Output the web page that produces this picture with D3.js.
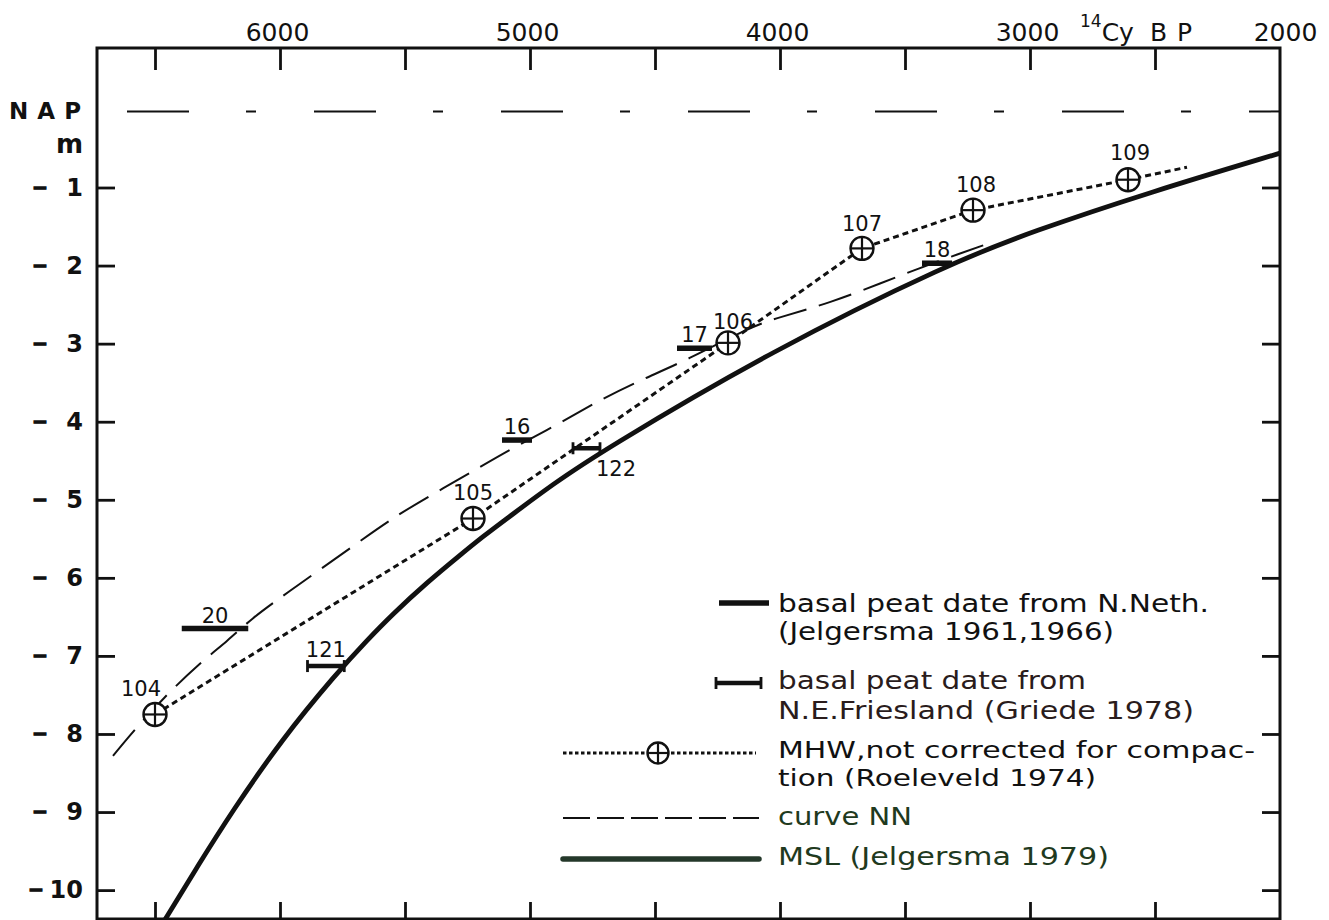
<!DOCTYPE html>
<html><head><meta charset="utf-8">
<script src="https://cdn.jsdelivr.net/npm/d3@7"></script>
<style>body{margin:0;background:#fff}svg{display:block}</style>
</head><body>
<svg id="c" width="1329" height="920"></svg>
<script>
// ---------- data ----------
const yearTicks = [6500, 6000, 5500, 5000, 4500, 4000, 3500, 3000, 2500];
const yearLabels = [6000, 5000, 4000, 3000, 2000];
const depthTicks = [-1, -2, -3, -4, -5, -6, -7, -8, -9, -10];

// MSL (Jelgersma 1979)
const mslYears  = [6470, 6327, 6193, 5993, 5773, 5652, 5548, 5412, 5280, 5188, 5080, 4908, 4720, 4028, 3320, 2988, 2520, 2000];
const mslDepths = [-10.43, -9.68, -9.00, -8.07, -7.22, -6.80, -6.46, -6.06, -5.71, -5.47, -5.21, -4.80, -4.39, -3.08, -1.97, -1.56, -1.06, -0.56];

// curve NN
const nnYears  = [6668, 6580, 6467, 6327, 6207, 6113, 5993, 5680, 5520, 5340, 5200, 5060, 4880, 4720, 4560, 4372, 4120, 4012, 3792, 3592, 3440, 3320, 3168];
const nnDepths = [-8.28, -7.94, -7.54, -7.11, -6.80, -6.52, -6.24, -5.53, -5.17, -4.84, -4.58, -4.32, -4.02, -3.72, -3.47, -3.21, -2.79, -2.67, -2.47, -2.22, -2.03, -1.89, -1.72];

// MHW (Roeleveld 1974)
const mhwIds    = ["104", "105", "106", "107", "108", "109", ""];
const mhwYears  = [6500, 5228, 4208, 3672, 3228, 2608, 2372];
const mhwDepths = [-7.75, -5.24, -2.99, -1.78, -1.29, -0.90, -0.74];

// basal peat dates N.Neth. (Jelgersma)
const nnethIds   = ["20", "16", "17", "18"];
const nnethFrom  = [6393, 5112, 4412, 3432];
const nnethTo    = [6127, 4992, 4272, 3312];
const nnethDepth = [-6.65, -4.235, -3.06, -1.97];

// basal peat dates N.E. Friesland (Griede)
const friesIds   = ["121", "122"];
const friesFrom  = [5890, 4828];
const friesTo    = [5743, 4720];
const friesDepth = [-7.13, -4.34];

const legendTexts = [
  ["basal peat date from N.Neth.", "(Jelgersma 1961,1966)"],
  ["basal peat date from", "N.E.Friesland  (Griede 1978)"],
  ["MHW,not corrected for compac-", "tion (Roeleveld 1974)"],
  ["curve NN"],
  ["MSL (Jelgersma 1979)"]
];

// ---------- layout ----------
const L = 97, R = 1280, T = 48, B = 919;
const x = d3.scaleLinear().domain([6732, 2000]).range([L, R]);
const y = d3.scaleLinear().domain([0.787, -10.37]).range([T, B]);
const ink = "#111";
const FONT = "'DejaVu Sans', sans-serif";

const svg = d3.select("#c");
svg.append("rect").attr("width", 1329).attr("height", 920).attr("fill", "#fff");

svg.append("defs").append("clipPath").attr("id", "plot")
  .append("rect").attr("x", L).attr("y", T).attr("width", R - L).attr("height", B - T);

function styleTicks(g) {
  g.select(".domain").remove();
  g.selectAll(".tick line").attr("stroke", ink).attr("stroke-width", 2.8);
}
svg.append("g").attr("transform", `translate(0,${T})`)
  .call(d3.axisBottom(x).tickValues(yearTicks).tickSize(22).tickFormat("")).call(styleTicks);
svg.append("g").attr("transform", `translate(0,${B})`)
  .call(d3.axisTop(x).tickValues(yearTicks).tickSize(17).tickFormat("")).call(styleTicks);
svg.append("g").attr("transform", `translate(${L},0)`)
  .call(d3.axisRight(y).tickValues(depthTicks).tickSize(18).tickFormat("")).call(styleTicks);
svg.append("g").attr("transform", `translate(${R},0)`)
  .call(d3.axisLeft(y).tickValues(depthTicks).tickSize(18).tickFormat("")).call(styleTicks);

// top labels
const topAx = svg.append("g").attr("transform", `translate(0,${T})`)
  .call(d3.axisTop(x).tickValues(yearLabels).tickSize(0).tickPadding(7).tickFormat(d => String(d)));
topAx.select(".domain").remove();
topAx.selectAll("text").attr("font-family", FONT).attr("font-size", 25).attr("fill", ink)
  .attr("transform", d => d === 2000 ? "translate(5,0)" : "translate(-3,0)");

// 14C y BP
const unit = svg.append("text").attr("font-family", FONT).attr("fill", ink).attr("x", 1080).attr("y", 41);
unit.append("tspan").attr("font-size", 17).attr("dy", -14).text("14");
unit.append("tspan").attr("font-size", 25).attr("dy", 14).text("Cy");
svg.append("text").attr("font-family", FONT).attr("fill", ink).attr("font-size", 25)
  .attr("x", 1150).attr("y", 41).attr("textLength", 42).attr("lengthAdjust", "spacing").text("BP");

// left labels (minus sign + magnitude)
const leftAx = svg.append("g").attr("transform", `translate(${L},0)`)
  .call(d3.axisLeft(y).tickValues(depthTicks).tickSize(0).tickPadding(14).tickFormat(d => String(Math.abs(d))));
leftAx.select(".domain").remove();
leftAx.selectAll("text").attr("font-family", FONT).attr("font-size", 24).attr("font-weight", "bold").attr("fill", ink);
svg.append("g").selectAll("text").data(depthTicks).join("text")
  .attr("x", d => d === -10 ? 36 : 40).attr("y", d => y(d)).attr("dy", "0.32em")
  .attr("text-anchor", "middle").attr("font-family", FONT).attr("font-size", 19).attr("font-weight", "bold")
  .attr("fill", ink).attr("stroke", ink).attr("stroke-width", 1.2).text("−");

svg.append("text").attr("x", 9).attr("y", 119).attr("font-family", FONT).attr("font-size", 23)
  .attr("font-weight", "bold").attr("textLength", 72).attr("lengthAdjust", "spacing").attr("fill", ink).text("NAP");
svg.append("text").attr("x", 83).attr("y", 153).attr("text-anchor", "end").attr("font-family", FONT)
  .attr("font-size", 26).attr("font-weight", "bold").attr("fill", ink).text("m");

// NAP dash-dot line
svg.append("line").attr("x1", 127).attr("x2", R).attr("y1", y(0) + 2).attr("y2", y(0) + 2)
  .attr("stroke", ink).attr("stroke-width", 2).attr("stroke-dasharray", "62,57,10,58");

const plot = svg.append("g").attr("clip-path", "url(#plot)");

// curve NN
const nnData = nnYears.map((d, i) => [d, nnDepths[i]]);
plot.append("path").datum(nnData)
  .attr("d", d3.line().x(d => x(d[0])).y(d => y(d[1])).curve(d3.curveBasis))
  .attr("fill", "none").attr("stroke", ink).attr("stroke-width", 2).attr("stroke-dasharray", "34,13");

// MSL
const mslData = mslYears.map((d, i) => [d, mslDepths[i]]);
plot.append("path").datum(mslData)
  .attr("d", d3.line().x(d => x(d[0])).y(d => y(d[1])).curve(d3.curveBasis))
  .attr("fill", "none").attr("stroke", ink).attr("stroke-width", 4.8);

// MHW dotted
const mhwData = mhwYears.map((d, i) => ({ id: mhwIds[i], yr: d, v: mhwDepths[i] }));
plot.append("path").datum(mhwData)
  .attr("d", d3.line().x(d => x(d.yr)).y(d => y(d.v)))
  .attr("fill", "none").attr("stroke", ink).attr("stroke-width", 3).attr("stroke-dasharray", "6,4");

// N.Neth bars
const nneth = nnethIds.map((id, i) => ({ id, a: nnethFrom[i], b: nnethTo[i], v: nnethDepth[i] }));
const gN = svg.append("g");
gN.selectAll("line").data(nneth).join("line")
  .attr("x1", d => x(d.a)).attr("x2", d => x(d.b)).attr("y1", d => y(d.v)).attr("y2", d => y(d.v))
  .attr("stroke", ink).attr("stroke-width", 5.5);
gN.selectAll("text").data(nneth).join("text")
  .attr("x", d => (x(d.a) + x(d.b)) / 2).attr("y", d => y(d.v) - 6)
  .attr("text-anchor", "middle").attr("font-family", FONT).attr("font-size", 21).attr("fill", ink).text(d => d.id);

// Friesland capped bars
const fries = friesIds.map((id, i) => ({ id, a: friesFrom[i], b: friesTo[i], v: friesDepth[i] }));
const gF = svg.append("g");
fries.forEach(d => {
  const x0 = x(d.a), x1 = x(d.b), yy = y(d.v);
  gF.append("line").attr("x1", x0).attr("x2", x1).attr("y1", yy).attr("y2", yy).attr("stroke", ink).attr("stroke-width", 4.5);
  [x0, x1].forEach(xx => gF.append("line").attr("x1", xx).attr("x2", xx).attr("y1", yy - 6).attr("y2", yy + 6)
    .attr("stroke", ink).attr("stroke-width", 2.8));
  const t = gF.append("text").attr("font-family", FONT).attr("font-size", 21).attr("fill", ink)
    .attr("text-anchor", "middle").text(d.id);
  if (d.id === "122") t.attr("x", x1 + 16).attr("y", yy + 28);
  else t.attr("x", (x0 + x1) / 2).attr("y", yy - 9);
});

// MHW markers
const labelNudge = { "104": [-14, -18], "105": [0, -19], "106": [5, -14], "107": [0, -17], "108": [3, -18], "109": [2, -20] };
function crossCircle(g, cx, cy, r) {
  g.append("circle").attr("cx", cx).attr("cy", cy).attr("r", r).attr("fill", "#fff").attr("stroke", ink).attr("stroke-width", 2.4);
  g.append("line").attr("x1", cx - r).attr("x2", cx + r).attr("y1", cy).attr("y2", cy).attr("stroke", ink).attr("stroke-width", 2.2);
  g.append("line").attr("x1", cx).attr("x2", cx).attr("y1", cy - r).attr("y2", cy + r).attr("stroke", ink).attr("stroke-width", 2.2);
}
const gM = svg.append("g");
mhwData.filter(d => d.id).forEach(d => {
  const cx = x(d.yr), cy = y(d.v);
  crossCircle(gM, cx, cy, 11.5);
  const n = labelNudge[d.id];
  gM.append("text").attr("x", cx + n[0]).attr("y", cy + n[1]).attr("text-anchor", "middle")
    .attr("font-family", FONT).attr("font-size", 21).attr("fill", ink).text(d.id);
});

// frame
svg.append("rect").attr("x", L).attr("y", T).attr("width", R - L).attr("height", B - T)
  .attr("fill", "none").attr("stroke", ink).attr("stroke-width", 3);

// ---------- legend ----------
const lg = svg.append("g");
const tx = 778;
const textWidths = [[431, 336], [308, 416], [477, 318], [134], [331]];
const baselines = [[612, 640], [689, 719], [758, 786], [825], [865]];
const fontSizes = [25, 25, 23, 25, 25];
const colors = [ink, "#2a1c1c", ink, "#1f3a20", "#1f3a20"];
legendTexts.forEach((lines, i) => {
  lines.forEach((s, j) => {
    lg.append("text").attr("font-family", FONT).attr("font-size", fontSizes[i]).attr("fill", colors[i])
      .attr("x", tx).attr("y", baselines[i][j])
      .attr("textLength", textWidths[i][j]).attr("lengthAdjust", "spacingAndGlyphs").text(s);
  });
});
// symbols
lg.append("line").attr("x1", 719).attr("x2", 769).attr("y1", 603).attr("y2", 603).attr("stroke", ink).attr("stroke-width", 5.5);
lg.append("line").attr("x1", 716).attr("x2", 761).attr("y1", 683).attr("y2", 683).attr("stroke", ink).attr("stroke-width", 4.5);
[716, 761].forEach(xx => lg.append("line").attr("x1", xx).attr("x2", xx).attr("y1", 677).attr("y2", 689).attr("stroke", ink).attr("stroke-width", 2.8));
lg.append("line").attr("x1", 563).attr("x2", 756).attr("y1", 753).attr("y2", 753).attr("stroke", ink).attr("stroke-width", 3).attr("stroke-dasharray", "3.5,2.5");
crossCircle(lg, 658, 753, 10.5);
lg.append("line").attr("x1", 563).attr("x2", 759).attr("y1", 818).attr("y2", 818).attr("stroke", ink).attr("stroke-width", 2).attr("stroke-dasharray", "27,7");
lg.append("line").attr("x1", 563).attr("x2", 759).attr("y1", 859).attr("y2", 859).attr("stroke", "#24382a").attr("stroke-width", 5.5).attr("stroke-linecap", "round");
</script>
</body></html>
